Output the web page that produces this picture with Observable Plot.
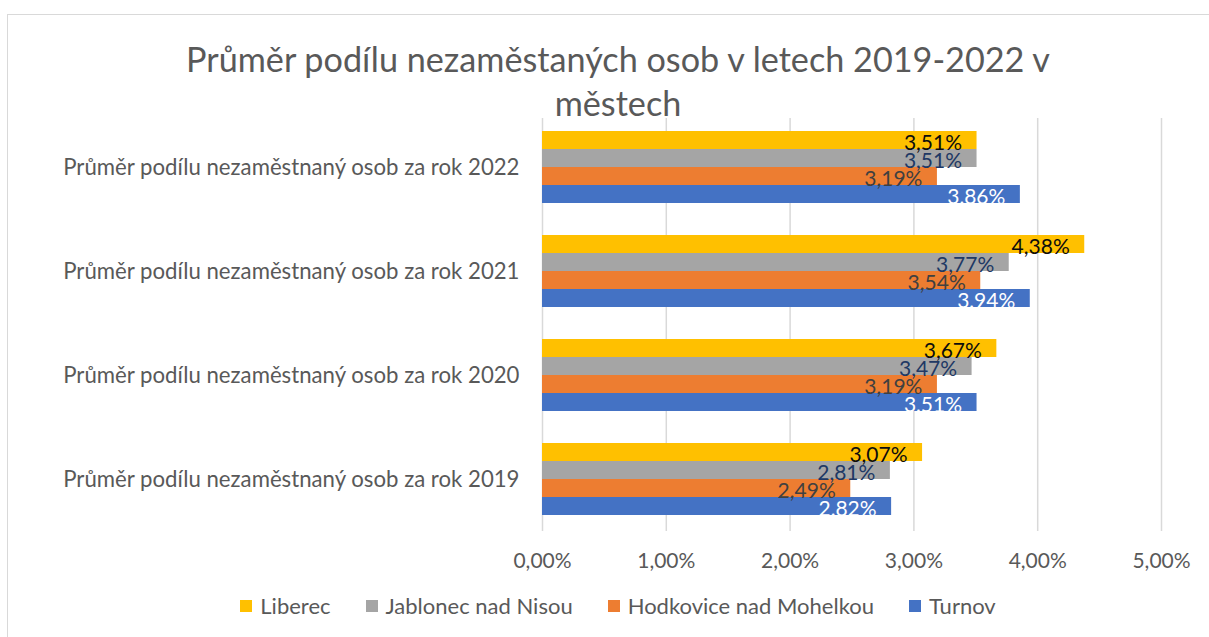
<!DOCTYPE html>
<html>
<head>
<meta charset="utf-8">
<script src="https://cdn.jsdelivr.net/npm/d3@7"></script>
<script src="https://cdn.jsdelivr.net/npm/@observablehq/plot@0.6"></script>
<style>
  body { margin: 0; background: #fff; }
  #wrap { position: relative; width: 1209px; height: 637px; overflow: hidden; font-family: Lato, sans-serif; background: #fff; }
  #frame { position: absolute; left: 7px; top: 14px; width: 1300px; height: 700px; border-left: 1.5px solid #d9d9d9; border-top: 1.5px solid #d9d9d9; }
  #title { position: absolute; left: 0; width: 1236px; top: 37px; text-align: center; font-size: 34.2px; line-height: 44px; color: #595959; }
  .layer { position: absolute; left: 0; top: 0; }
  #legend { position: absolute; left: 0; width: 1236px; top: 592px; display: flex; justify-content: center; font-size: 22px; color: #595959; }
  #legend .item { display: flex; align-items: center; margin: 0 17.5px; }
  #legend .sw { width: 12px; height: 12px; margin-right: 8px; }
</style>
</head>
<body>
<div id="wrap">
  <div id="frame"></div>
  <div id="bg" class="layer"></div>
  <div id="fg" class="layer"></div>
  <div id="title">Průměr podílu nezaměstaných osob v letech 2019-2022 v<br>městech</div>
  <div id="legend"></div>
</div>
<script>
// ---- data ----
const categories = [
  "Průměr podílu nezaměstnaný osob za rok 2022",
  "Průměr podílu nezaměstnaný osob za rok 2021",
  "Průměr podílu nezaměstnaný osob za rok 2020",
  "Průměr podílu nezaměstnaný osob za rok 2019"
];
const series = ["Liberec", "Jablonec nad Nisou", "Hodkovice nad Mohelkou", "Turnov"];
// values in %, per category (2022, 2021, 2020, 2019)
const liberec   = [3.51, 4.38, 3.67, 3.07];
const jablonec  = [3.51, 3.77, 3.47, 2.81];
const hodkovice = [3.19, 3.54, 3.19, 2.49];
const turnov    = [3.86, 3.94, 3.51, 2.82];
const xTicks = [0, 1, 2, 3, 4, 5];
const barColors = ["#FFC000", "#A5A5A5", "#ED7D31", "#4472C4"];
const labelColors = ["#0d0d0d", "#203864", "#404040", "#ffffff"];

const seriesValues = [liberec, jablonec, hodkovice, turnov];
const rows = [];
categories.forEach((c, ci) => series.forEach((s, si) => rows.push({cat: c, series: s, value: seriesValues[si][ci]})));

const fmt = d => d.toFixed(2).replace(".", ",") + "%";

const W = 1209, H = 637;
const margins = {marginLeft: 542, marginRight: 48, marginTop: 118, marginBottom: 106};

// background: grid + x axis
const bg = Plot.plot({
  width: W, height: H, ...margins,
  style: {fontFamily: "Lato, sans-serif", fontSize: "21px", color: "#595959", background: "transparent"},
  x: {domain: [0, 5], ticks: xTicks, tickFormat: fmt, tickSize: 0, tickPadding: 22, label: null},
  y: {axis: null},
  marks: [Plot.ruleX(xTicks, {stroke: "#d9d9d9", strokeWidth: 1.5})]
});
document.getElementById("bg").appendChild(bg);

// foreground: bars + labels
const fg = Plot.plot({
  width: W, height: H, ...margins,
  style: {fontFamily: "Lato, sans-serif", fontSize: "22.2px", color: "#595959", background: "transparent"},
  x: {domain: [0, 5], axis: null},
  y: {domain: series, axis: null, padding: 0},
  fy: {domain: categories, axis: "left", paddingInner: 0.308, paddingOuter: 0.1376, align: 0.444, tickSize: 0, tickPadding: 23, label: null},
  color: {domain: series, range: barColors},
  marks: [
    Plot.barX(rows, {fy: "cat", y: "series", x: "value", fill: "series"}),
    ...series.map((s, i) => Plot.text(rows.filter(r => r.series === s), {
      fy: "cat", y: "series", x: "value", text: d => fmt(d.value),
      textAnchor: "end", dx: -15, dy: 3, fill: labelColors[i], fontSize: 21
    }))
  ]
});
document.getElementById("fg").appendChild(fg);

// legend
const leg = document.getElementById("legend");
series.forEach((s, i) => {
  const it = document.createElement("div"); it.className = "item";
  const sw = document.createElement("div"); sw.className = "sw"; sw.style.background = barColors[i];
  const tx = document.createElement("span"); tx.textContent = s;
  it.appendChild(sw); it.appendChild(tx); leg.appendChild(it);
});
</script>
</body>
</html>
